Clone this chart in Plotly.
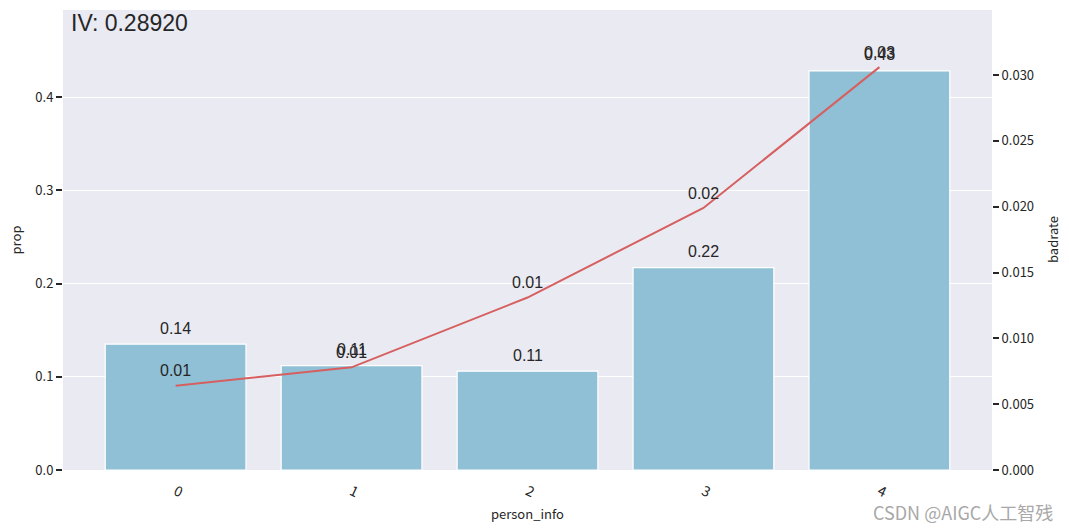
import plotly.graph_objects as go

categories = ["0", "1", "2", "3", "4"]
prop = [0.135, 0.112, 0.106, 0.217, 0.428]
badrate = [0.0064, 0.0078, 0.0131, 0.0199, 0.0306]
iv_text = "IV: 0.28920"

fig = go.Figure()
fig.add_trace(go.Bar(
    x=list(range(len(categories))), y=prop, width=0.8,
    marker=dict(color="#8FC0D5", line=dict(color="white", width=1.2)),
    yaxis="y", showlegend=False, hoverinfo="y"))
fig.add_trace(go.Scatter(
    x=list(range(len(categories))), y=badrate, mode="lines",
    line=dict(color="#D65F5F", width=2), yaxis="y2", showlegend=False))

tickfont = dict(family="Noto Sans CJK SC", size=13, color="#262626")
ann = []
for i, v in enumerate(prop):
    ann.append(dict(x=i, y=v, xref="x", yref="y", text=f"{v:.2f}", showarrow=False,
                    yanchor="middle", yshift=16,
                    font=dict(family="Liberation Sans, Arial", size=16, color="#262626")))
for i, v in enumerate(badrate):
    ann.append(dict(x=i, y=v, xref="x", yref="y2", text=f"{v:.2f}", showarrow=False,
                    yanchor="middle", yshift=15,
                    font=dict(family="Liberation Sans, Arial", size=16, color="#262626")))
ann.append(dict(x=0.006, y=1.004, xref="paper", yref="paper", text=iv_text, showarrow=False,
                xanchor="left", yanchor="top",
                font=dict(family="Liberation Sans, Arial", size=23, color="#262626")))
ann.append(dict(x=0.5, y=-0.0935, xref="paper", yref="paper", text="person_info",
                showarrow=False, xanchor="center", yanchor="middle", font=tickfont))
ann.append(dict(x=1.0646, y=0.5, xref="paper", yref="paper", text="badrate", textangle=-90,
                showarrow=False, xanchor="center", yanchor="middle", font=tickfont))
ann.append(dict(x=1.068, y=-0.091, xref="paper", yref="paper", text="CSDN @AIGC人工智残",
                showarrow=False, xanchor="right", yanchor="middle",
                font=dict(family="Noto Sans CJK SC", size=18, color="#A8A8A8")))

fig.update_layout(
    width=1069, height=531,
    margin=dict(l=63, r=77, t=10, b=61, autoexpand=False),
    paper_bgcolor="white", plot_bgcolor="#EAEAF2",
    annotations=ann,
    bargap=0.2,
    xaxis=dict(tickmode="array", tickvals=list(range(len(categories))), ticktext=categories,
               range=[-0.64, 4.64], showgrid=False, zeroline=False, tickangle=25,
               automargin=False, ticklabelstandoff=10,
               tickfont=dict(family="Noto Sans CJK SC", size=14, color="#262626"),
               ticks=""),
    yaxis=dict(range=[0, 0.4933], tickvals=[0, 0.1, 0.2, 0.3, 0.4],
               ticktext=["0.0", "0.1", "0.2", "0.3", "0.4"], automargin=False,
               showgrid=True, gridcolor="white", gridwidth=1.2, zeroline=False,
               ticks="outside", ticklen=6, tickwidth=1.5, tickcolor="#262626",
               tickfont=tickfont, title=dict(text="prop", font=tickfont, standoff=10)),
    yaxis2=dict(range=[0, 0.03494], overlaying="y", side="right", automargin=False,
                tickvals=[0, 0.005, 0.01, 0.015, 0.02, 0.025, 0.03],
                ticktext=["0.000", "0.005", "0.010", "0.015", "0.020", "0.025", "0.030"],
                showgrid=False, zeroline=False,
                ticks="outside", ticklen=6, tickwidth=1.5, tickcolor="#262626",
                tickfont=tickfont),
)
fig.write_html("out.html", config={"displayModeBar": False},
               post_script="document.body.style.margin='0';document.body.style.overflow='hidden';")
